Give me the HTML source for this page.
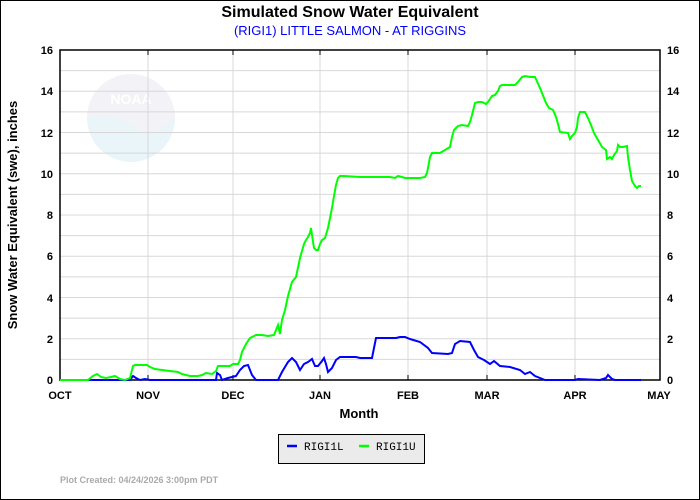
<!DOCTYPE html>
<html><head><meta charset="utf-8"><style>
body{margin:0;background:#fff}
svg{display:block;font-family:"Liberation Sans",sans-serif}
</style></head><body>
<svg width="700" height="500" viewBox="0 0 700 500">
<rect x="0.5" y="0.5" width="699" height="499" fill="#fff" stroke="#000"/>
<text x="350" y="17" text-anchor="middle" font-size="16" font-weight="bold">Simulated Snow Water Equivalent</text>
<text x="350" y="35" text-anchor="middle" font-size="13" fill="#0000ff">(RIGI1) LITTLE SALMON - AT RIGGINS</text>
<!-- logo -->
<g opacity="0.5">
<circle cx="131" cy="118" r="44" fill="#d4ecf5"/>
<path d="M87,118 A44,44 0 0,1 175,118 Q150,140 131,125 Q110,110 87,118Z" fill="#e8e8f0"/>
<text x="131" y="104" text-anchor="middle" font-size="14" font-weight="bold" fill="#fff">NOAA</text>
</g>
<!-- grid -->
<g stroke="#d8d8d8" stroke-width="1">
<line x1="60" x2="660" y1="359.4" y2="359.4"/><line x1="60" x2="660" y1="338.8" y2="338.8"/>
<line x1="60" x2="660" y1="318.1" y2="318.1"/><line x1="60" x2="660" y1="297.5" y2="297.5"/>
<line x1="60" x2="660" y1="276.9" y2="276.9"/><line x1="60" x2="660" y1="256.3" y2="256.3"/>
<line x1="60" x2="660" y1="235.6" y2="235.6"/><line x1="60" x2="660" y1="215" y2="215"/>
<line x1="60" x2="660" y1="194.4" y2="194.4"/><line x1="60" x2="660" y1="173.8" y2="173.8"/>
<line x1="60" x2="660" y1="153.1" y2="153.1"/><line x1="60" x2="660" y1="132.5" y2="132.5"/>
<line x1="60" x2="660" y1="111.9" y2="111.9"/><line x1="60" x2="660" y1="91.3" y2="91.3"/>
<line x1="60" x2="660" y1="70.6" y2="70.6"/>
<line x1="148" x2="148" y1="50" y2="380"/><line x1="233" x2="233" y1="50" y2="380"/>
<line x1="320" x2="320" y1="50" y2="380"/><line x1="408" x2="408" y1="50" y2="380"/>
<line x1="487" x2="487" y1="50" y2="380"/><line x1="575" x2="575" y1="50" y2="380"/>
</g>
<rect x="60" y="50" width="600" height="330" fill="none" stroke="#000" stroke-width="1.5"/>
<g stroke="#000">
<line x1="148" x2="148" y1="50" y2="55"/><line x1="233" x2="233" y1="50" y2="55"/><line x1="320" x2="320" y1="50" y2="55"/><line x1="408" x2="408" y1="50" y2="55"/><line x1="487" x2="487" y1="50" y2="55"/><line x1="575" x2="575" y1="50" y2="55"/>
<line x1="148" x2="148" y1="380" y2="375"/><line x1="233" x2="233" y1="380" y2="375"/><line x1="320" x2="320" y1="380" y2="375"/><line x1="408" x2="408" y1="380" y2="375"/><line x1="487" x2="487" y1="380" y2="375"/><line x1="575" x2="575" y1="380" y2="375"/>
</g>
<g font-size="11" font-weight="bold">
<g text-anchor="end">
<text x="53" y="384">0</text><text x="53" y="343">2</text><text x="53" y="302">4</text><text x="53" y="260">6</text><text x="53" y="219">8</text><text x="53" y="178">10</text><text x="53" y="137">12</text><text x="53" y="95">14</text><text x="53" y="54">16</text>
</g>
<g text-anchor="start">
<text x="667" y="384">0</text><text x="667" y="343">2</text><text x="667" y="302">4</text><text x="667" y="260">6</text><text x="667" y="219">8</text><text x="667" y="178">10</text><text x="667" y="137">12</text><text x="667" y="95">14</text><text x="667" y="54">16</text>
</g>
<g text-anchor="middle">
<text x="60" y="399">OCT</text><text x="148" y="399">NOV</text><text x="233" y="399">DEC</text><text x="320" y="399">JAN</text><text x="408" y="399">FEB</text><text x="487" y="399">MAR</text><text x="575" y="399">APR</text><text x="659" y="399">MAY</text>
</g>
</g>
<text x="359" y="418" text-anchor="middle" font-size="13" font-weight="bold">Month</text>
<text transform="translate(17,215) rotate(-90)" text-anchor="middle" font-size="13" font-weight="bold">Snow Water Equivalent (swe),  inches</text>
<polyline fill="none" stroke="#0000ff" stroke-width="2" points="60,380 130,380 133,376 136,378 140,380 145,379 150,380 216,380 217,373 220,375 222,380 228,378 232,377 236,376 240,370 244,366 248,365 252,375 256,380 278,380 282,372 288,362 292,358 296,362 300,370 304,364 308,362 312,359 315,366 318,366 322,361 324,358 326,364 328,372 332,368 336,360 340,357 356,357 360,358 372,358 374,348 376,338 396,338 400,337 405,337 410,339 420,342 428,348 432,353 448,354 452,353 455,344 460,341 470,342 474,350 478,357 484,360 490,364 494,361 500,366 510,367 520,370 525,374 530,372 535,376 545,380 575,380 578,379 600,380 606,378 608,375 612,379 615,380 641,380"/>
<polyline fill="none" stroke="#00ff00" stroke-width="2" points="60,380 88,380 93,376 97,374 101,377 106,378 111,377 115,376 120,379 125,380 130,378 133,366 135,365 147,365 150,367 155,369 162,370 170,371 178,372 182,374 190,376 198,376 202,375 206,373 212,374 216,371 218,366 230,366 233,364 238,364 240,360 242,352 246,344 250,338 256,335 262,335 268,336 274,335 276,330 278,325 280,334 282,320 285,310 288,296 292,282 296,277 300,258 304,244 306,240 308,237 310,233 311,228 312,235 314,248 316,250 318,250 320,244 322,240 325,238 328,228 330,218 332,208 334,196 336,185 338,178 340,176 344,176 360,177 390,177 395,178 398,176 402,177 405,178 420,178 425,177 427,173 428,168 430,157 432,153 440,153 445,150 450,147 452,137 454,130 458,126 462,125 468,126 470,122 472,115 475,103 478,102 482,102 486,104 488,102 490,99 492,96 495,95 498,91 500,86 502,85 515,85 518,82 522,77 525,76 530,77 535,77 540,88 542,93 544,98 546,103 549,108 553,110 556,117 558,124 560,132 568,133 570,139 572,136 575,133 577,127 578,118 580,112 585,112 588,118 591,125 594,133 598,140 602,147 606,150 607,159 610,157 612,159 614,155 617,151 618,145 620,147 623,147 627,146 628,157 630,170 632,181 635,186 637,188 639,186 641,186"/>
<rect x="278.5" y="434.5" width="146" height="29" fill="#ebebeb" stroke="#000"/>
<line x1="287" x2="297" y1="446" y2="446" stroke="#0000ff" stroke-width="2.5"/>
<text x="304" y="450" font-family="Liberation Mono,monospace" font-size="11">RIGI1L</text>
<line x1="359" x2="369" y1="446" y2="446" stroke="#00ff00" stroke-width="2.5"/>
<text x="376" y="450" font-family="Liberation Mono,monospace" font-size="11">RIGI1U</text>
<text x="60" y="483" font-size="9" font-weight="bold" fill="#aaa">Plot Created: 04/24/2026 3:00pm PDT</text>
</svg>
</body></html>
